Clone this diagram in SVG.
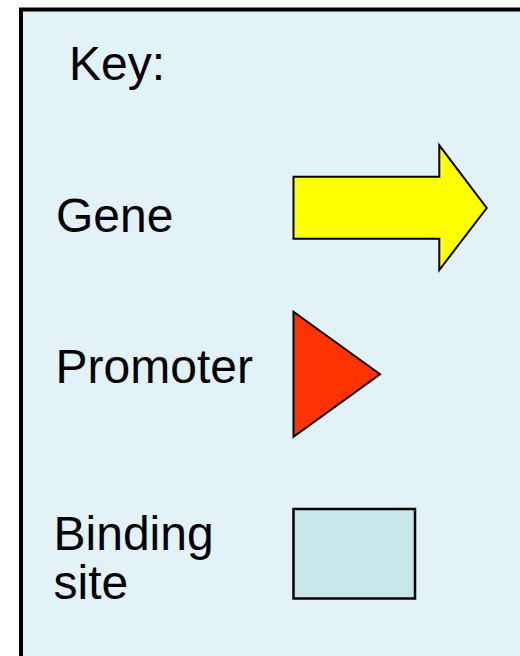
<svg xmlns="http://www.w3.org/2000/svg" width="520" height="656" viewBox="0 0 520 656">
<style>
.lbl{font-family:"Liberation Sans",Arial,sans-serif;font-size:48px;fill:#000}
.sym{stroke:#000;stroke-width:2;stroke-linejoin:miter}
</style>
<rect x="0" y="0" width="520" height="656" fill="#fff"/>
<g id="key-box">
<rect x="21" y="9.5" width="540" height="700" fill="#E2F2F6" stroke="#000" stroke-width="4"/>
<text class="lbl" x="69" y="80">Key:</text>
</g>
<g id="gene">
<text class="lbl" x="56" y="232">Gene</text>
<polygon class="sym" fill="#FFFF00" points="293.5,176.7 439.3,176.7 439.3,145.3 486.7,208 439.3,270 439.3,238.7 293.5,238.7"/>
</g>
<g id="promoter">
<text class="lbl" x="55.5" y="382.7">Promoter</text>
<polygon class="sym" fill="#FF3300" points="293.5,311.7 380,374.3 293.5,436.7"/>
</g>
<g id="binding-site">
<text class="lbl" x="53.5" y="550">Binding</text>
<text class="lbl" x="53.5" y="599.3">site</text>
<rect x="293.5" y="509" width="121.5" height="89.5" fill="#C8E5E8" stroke="#000" stroke-width="2.5"/>
</g>
<g id="connectors"/>
</svg>
